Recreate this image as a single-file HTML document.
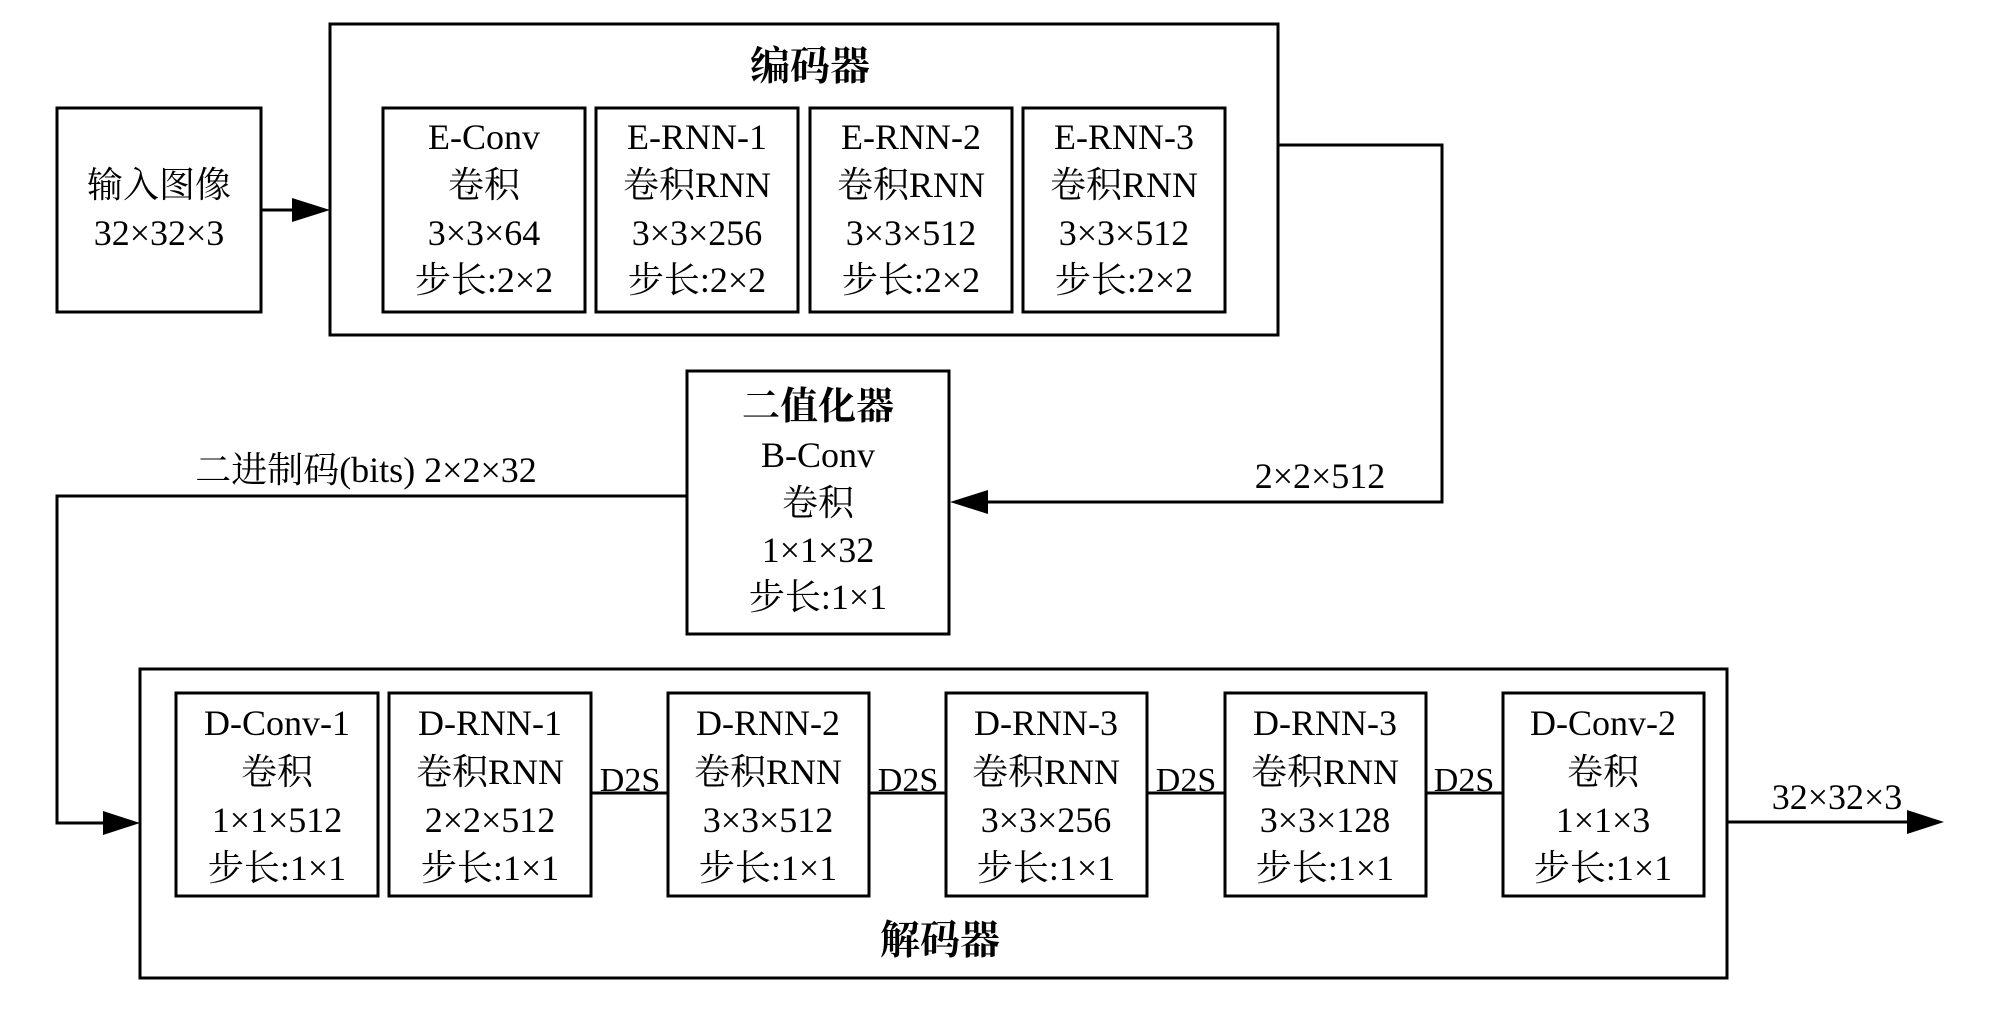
<!DOCTYPE html>
<html><head><meta charset="utf-8"><style>
html,body{margin:0;padding:0;background:#fff;}
svg text{font-family:"Liberation Serif","Noto Serif CJK SC","Noto Sans CJK SC",serif;fill:#000;}
</style></head><body>
<svg width="1989" height="1023" viewBox="0 0 1989 1023" xmlns="http://www.w3.org/2000/svg">
<g fill="none" stroke="#000" stroke-width="3">
<rect x="57" y="108" width="204" height="204"/>
<rect x="330" y="24" width="948" height="311"/>
<rect x="383" y="108" width="202" height="204"/>
<rect x="596" y="108" width="202" height="204"/>
<rect x="810" y="108" width="202" height="204"/>
<rect x="1023" y="108" width="202" height="204"/>
<rect x="687" y="371" width="262" height="263"/>
<rect x="140" y="669" width="1587" height="309"/>
<rect x="176" y="693" width="202" height="203"/>
<rect x="389" y="693" width="202" height="203"/>
<rect x="668" y="693" width="201" height="203"/>
<rect x="946" y="693" width="201" height="203"/>
<rect x="1225" y="693" width="201" height="203"/>
<rect x="1503" y="693" width="201" height="203"/>
<polyline points="261,210 300,210"/>
<polyline points="1278,145 1442,145 1442,502 985,502"/>
<polyline points="687,496 57,496 57,823 110,823"/>
<line x1="591" y1="793" x2="668" y2="793"/>
<line x1="869" y1="793" x2="946" y2="793"/>
<line x1="1147" y1="793" x2="1225" y2="793"/>
<line x1="1426" y1="793" x2="1503" y2="793"/>
<line x1="1727" y1="822" x2="1912" y2="822"/>
</g>
<g fill="#000">
<polygon points="292,198 330,210 292,222"/>
<polygon points="988,490 950,502 988,514"/>
<polygon points="103,811 140,823 103,835"/>
<polygon points="1907,810 1944,822 1907,834"/>
</g>
<g font-size="36" text-anchor="middle" dominant-baseline="central">
<text x="159" y="185">输入图像</text>
<text x="159" y="233">32×32×3</text>
<text x="810" y="66" font-weight="bold" font-family="'Noto Sans CJK SC',sans-serif" font-size="40">编码器</text>
<text x="484" y="137">E-Conv</text><text x="484" y="185">卷积</text><text x="484" y="233">3×3×64</text><text x="484" y="280">步长:2×2</text>
<text x="697" y="137">E-RNN-1</text><text x="697" y="185">卷积RNN</text><text x="697" y="233">3×3×256</text><text x="697" y="280">步长:2×2</text>
<text x="911" y="137">E-RNN-2</text><text x="911" y="185">卷积RNN</text><text x="911" y="233">3×3×512</text><text x="911" y="280">步长:2×2</text>
<text x="1124" y="137">E-RNN-3</text><text x="1124" y="185">卷积RNN</text><text x="1124" y="233">3×3×512</text><text x="1124" y="280">步长:2×2</text>
<text x="818" y="407" font-weight="bold" font-family="'Noto Sans CJK SC',sans-serif" font-size="38">二值化器</text>
<text x="818" y="455">B-Conv</text><text x="818" y="503">卷积</text><text x="818" y="550">1×1×32</text><text x="818" y="597">步长:1×1</text>
<text x="1320" y="476">2×2×512</text>
<text x="366" y="470">二进制码(bits) 2×2×32</text>
<text x="277" y="723">D-Conv-1</text><text x="277" y="772">卷积</text><text x="277" y="820">1×1×512</text><text x="277" y="868">步长:1×1</text>
<text x="490" y="723">D-RNN-1</text><text x="490" y="772">卷积RNN</text><text x="490" y="820">2×2×512</text><text x="490" y="868">步长:1×1</text>
<text x="768" y="723">D-RNN-2</text><text x="768" y="772">卷积RNN</text><text x="768" y="820">3×3×512</text><text x="768" y="868">步长:1×1</text>
<text x="1046" y="723">D-RNN-3</text><text x="1046" y="772">卷积RNN</text><text x="1046" y="820">3×3×256</text><text x="1046" y="868">步长:1×1</text>
<text x="1325" y="723">D-RNN-3</text><text x="1325" y="772">卷积RNN</text><text x="1325" y="820">3×3×128</text><text x="1325" y="868">步长:1×1</text>
<text x="1603" y="723">D-Conv-2</text><text x="1603" y="772">卷积</text><text x="1603" y="820">1×1×3</text><text x="1603" y="868">步长:1×1</text>
<text x="940" y="940" font-weight="bold" font-family="'Noto Sans CJK SC',sans-serif" font-size="40">解码器</text>
<text x="1837" y="797">32×32×3</text>
</g>
<g font-size="34" text-anchor="middle">
<text x="630" y="791">D2S</text>
<text x="908" y="791">D2S</text>
<text x="1186" y="791">D2S</text>
<text x="1464" y="791">D2S</text>
</g>
</svg>
</body></html>
